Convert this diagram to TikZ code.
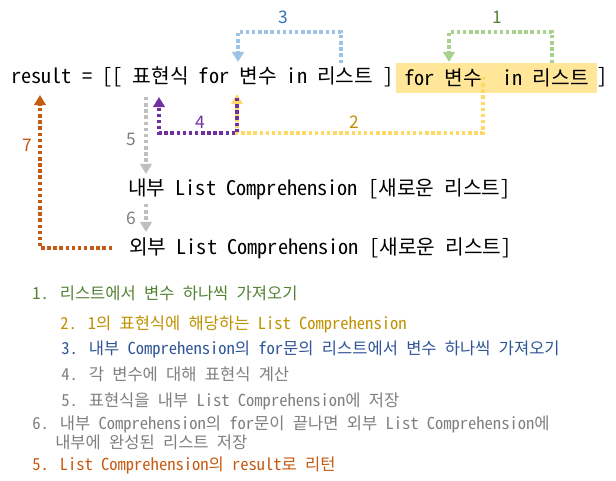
\documentclass[tikz,border=0pt]{standalone}
\usepackage{fontspec}
\setmainfont{Noto Sans Mono CJK KR}
\newfontfamily\numfont{Noto Sans CJK KR}
\usepackage{xcolor}
\usepackage{tikz}
\usetikzlibrary{arrows.meta,positioning}
\definecolor{hlyellow}{HTML}{FFE699}
\definecolor{arrblue}{HTML}{9DC3E6}
\definecolor{txtblue}{HTML}{2E75B6}
\definecolor{noteblue}{HTML}{2F5597}
\definecolor{arrgreen}{HTML}{A9D18E}
\definecolor{txtgreen}{HTML}{548235}
\definecolor{arryellow}{HTML}{FFD966}
\definecolor{txtgold}{HTML}{BF9000}
\definecolor{arrpurple}{HTML}{7030A0}
\definecolor{arrgray}{HTML}{BFBFBF}
\definecolor{txtgray}{HTML}{7F7F7F}
\definecolor{arrorange}{HTML}{C55A11}
\tikzset{
  code/.style={inner sep=0pt, anchor=base west, font=\fontsize{15.2}{18}\selectfont},
  note/.style={inner sep=0pt, anchor=base west, font=\fontsize{12.4}{15}\selectfont},
  num/.style={inner sep=0pt, font=\numfont\fontsize{13}{15}\selectfont},
  flow/.style={line width=2.6pt, dash pattern=on 2.6pt off 2pt,
               -{Triangle[width=8.6pt,length=7.6pt]}}
}
\begin{document}
\begin{tikzpicture}[x=0.75pt, y=-0.75pt]
\useasboundingbox (0,0) rectangle (616,480);
% ---- code lines ----
\node[code] (lhs) at (11,83.5) {result = [[ 표현식 for 변수 in 리스트 ]};
\node[rectangle, fill=hlyellow, inner sep=0pt, minimum width=151pt, minimum height=22.5pt,
      font=\fontsize{15.2}{18}\selectfont] (gen) at (496.5,78) {for 변수\ \ in 리스트};
\node[code] (close) at (597,83.5) {]};
\node[code] (inner) at (128,195) {내부 List Comprehension [새로운 리스트]};
\node[code] (outer) at (129,254) {외부 List Comprehension [새로운 리스트]};
% ---- arrow ends ----
\coordinate (s1) at (552,63);   \coordinate (t1) at (449,62);
\coordinate (s3) at (341,63);   \coordinate (t3) at (238,62);
\coordinate (s2) at (483,77);   \coordinate (t2) at (237,94);
\coordinate (s4) at (237,98);   \coordinate (t4) at (159,97);
\coordinate (s5) at (146,97);   \coordinate (t5) at (146,174);
\coordinate (s6) at (146,204);  \coordinate (t6) at (146,232);
\coordinate (s7) at (112,248);  \coordinate (t7) at (40,95);
% ---- arrows ----
\draw[flow, arrgreen] (s1) |- (449,32) -- (t1);
\draw[flow, arrblue] (s3) |- (238,32) -- (t3);
\draw[flow, arryellow] (s2) |- (237,133) -- (t2);
\draw[flow, arrpurple] (s4) |- (159,133) -- (t4);
\draw[flow, arrgray] (s5) -- (t5);
\draw[flow, arrgray] (s6) -- (t6);
\draw[flow, arrorange] (s7) -| (t7);
% ---- step numbers ----
\node[num, text=txtgreen] (l1) at (497,17) {1};
\node[num, text=txtgold] (l2) at (354,122) {2};
\node[num, text=txtblue] (l3) at (283,17) {3};
\node[num, text=arrpurple] (l4) at (200,122) {4};
\node[num, text=txtgray] (l5) at (131,139) {5};
\node[num, text=txtgray] (l6) at (131,218) {6};
\node[num, text=arrorange] (l7) at (27,145) {7};
% ---- notes ----
\node[note, text=txtgreen] (n1) at (32,299) {1. 리스트에서 변수 하나씩 가져오기};
\node[note, text=txtgold] (n2) at (60,329) {2. 1의 표현식에 해당하는 List Comprehension};
\node[note, text=noteblue] (n3) at (61,354) {3. 내부 Comprehension의 for문의 리스트에서 변수 하나씩 가져오기};
\node[note, text=txtgray] (n4) at (61,380) {4. 각 변수에 대해 표현식 계산};
\node[note, text=txtgray] (n5) at (61,406) {5. 표현식을 내부 List Comprehension에 저장};
\node[note, text=txtgray] (n6) at (32,429) {6. 내부 Comprehension의 for문이 끝나면 외부 List Comprehension에};
\node[note, text=txtgray] (n6b) at (55,448) {내부에 완성된 리스트 저장};
\node[note, text=arrorange] (n7) at (32,470) {5. List Comprehension의 result로 리턴};
\end{tikzpicture}
\end{document}
